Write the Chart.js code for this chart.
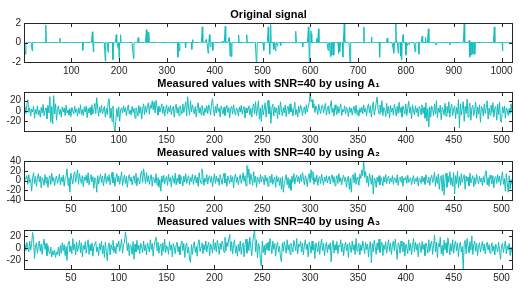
<!DOCTYPE html>
<html>
<head>
<meta charset="utf-8">
<script src="https://cdn.jsdelivr.net/npm/chart.js@4"></script>
<style>
  body { margin: 0; background: #fff; }
  #wrap { position: relative; width: 528px; height: 293px; }
  canvas { position: absolute; left: 0; }
</style>
</head>
<body>
<div id="wrap">
  <canvas id="c1" width="528" height="76" style="top:0px"></canvas>
  <canvas id="c2" width="528" height="76" style="top:69px"></canvas>
  <canvas id="c3" width="528" height="76" style="top:138px"></canvas>
  <canvas id="c4" width="528" height="76" style="top:207px"></canvas>
</div>
<script>
// ***** DATA *****

// original sparse signal: position and value of every nonzero entry (length 1024)
let sigLength = 1024;
let spikeIdx = [4, 18, 47, 76, 124, 144, 146, 171, 177, 187, 194, 198, 200, 203, 230, 240, 257, 260, 262, 305,
  323, 326, 339, 352, 354, 374, 382, 386, 389, 391, 396, 416, 422, 430, 432, 435, 450, 467, 487, 488,
  503, 512, 515, 517, 524, 527, 531, 538, 570, 584, 596, 598, 601, 602, 613, 615, 617, 637, 642, 645,
  649, 659, 662, 668, 671, 683, 712, 727, 728, 745, 761, 773, 775, 779, 781, 784, 789, 791, 794, 800,
  803, 807, 819, 827, 834, 841, 847, 863, 892, 922, 932, 934, 936, 940, 944, 985, 1002];
let spikeVal = [-1.2, -0.85, 1.8, 0.45, -0.8, 1.1, -0.95, -1.9, -1.0, -1.75, 0.8, -0.6, -1.65, 0.8, -1.65, 0.5, 1.3, 1.05, 1.05, 0.05,
  -1.5, -0.85, -0.55, -0.7, 0.3, 1.6, 0.3, -1.1, 0.8, -0.45, -0.8, 0.15, 1.65, 0.5, -1.4, -1.45, 0.8, 0.8, -2.0, -1.8,
  -0.8, 1.6, -1.2, 1.85, -0.7, -0.85, -0.35, -0.3, 1.15, -0.45, 1.6, -2.0, 1.2, 0.9, 0.4, 0.4, 1.4, -0.8, -1.45, -1.3,
  -1.3, -1.1, -0.95, -1.5, 1.9, -2.0, 1.6, 0.1, 0.55, -1.5, 0.45, -0.6, -1.1, 1.9, 0.1, -1.1, -1.4, -1.75, 0.8, -1.3,
  -0.3, -0.2, -0.95, -1.2, 0.65, 0.55, 1.4, -0.25, -0.2, 1.95, 0.2, -1.5, -1.3, -1.2, -1.2, 1.6, -0.85];

// measured values (512 each)
let measA1 = [
  0, 8, -5, 12, 22, -3, 6, -10, 4, -2, 9, -14, 3, -6, 10, -8, 2, -12, 7, -4, 13, -9, 1, 6, -15, 11, -4, 28, -22, 9, -25, 30,
  -6, 14, -18, 5, 10, -7, 3, -12, 8, -2, 6, -9, 11, -4, 2, -8, 5, -11, 7, 0, -6, 9, -3, 4, -10, 6, -5, 12, -7, 3, -9, 8,
  -2, 10, -13, 5, -4, 7, -8, 12, -6, 3, 15, -5, 26, 4, -10, 8, -3, 11, -6, 2, 9, -12, 5, -7, 18, 24, -14, 6, -20, 10, -28, -39,
  -18, 5, -12, 8, -20, 3, 6, -4, 10, -2, 7, -9, 4, 12, -6, 2, -8, 9, -3, 5, -14, 6, 1, -10, 11, -5, 8, -16, 4, 14, -7, 10,
  -3, 9, 16, -6, 12, 5, 20, 2, 18, -4, 21, 7, -8, 10, -2, 6, 14, -5, 9, -10, 3, 12, -6, 8, -2, 11, -7, 4, 9, -12, 5, 13,
  -4, 7, -9, 10, 2, -6, 14, -3, 8, 18, -10, 28, 6, -8, 20, -2, 12, 3, -6, 9, -12, 5, 16, -4, 7, -7, 11, 1, -9, 6, -3, 10,
  -5, 12, 4, -8, 15, 24, 3, -10, 9, -4, 14, -1, 6, -12, 10, 2, -6, 8, -9, 5, 11, -3, 7, -13, 4, 9, -6, 12, 0, -8, 6, 3,
  -10, 8, -2, 11, -6, 4, 9, -14, 6, -4, 2, 10, -8, 5, -12, 7, 14, -5, 18, -9, 3, 20, -16, 6, -20, 12, -8, 4, 16, -12, 8, 21,
  -6, 10, -24, 5, 13, -10, 8, -3, 6, -15, 11, -7, 18, 2, -9, 7, -4, 12, -11, 5, 9, -6, 14, -2, 6, -10, 4, 17, -8, 3, -12, 9,
  -4, 11, 6, -9, 3, 8, -6, 12, -2, 7, 16, 37, 18, 22, 6, 14, -3, 10, 4, -7, 13, 2, -5, 9, 12, -4, 6, 15, -8, 3, 10, -6,
  8, 20, -3, 6, -10, 12, 2, -7, 9, -4, 5, 14, -9, 3, -2, 10, -6, 7, 1, -11, 8, -3, 6, -8, 4, 9, -5, 11, -7, 2, -10, 6,
  -3, 8, -6, 12, -2, 5, -9, 7, 14, -4, 10, -12, 6, 18, -8, 2, 16, 27, 4, -6, 12, -3, 20, -9, 7, 3, -11, 15, -5, 9, -14, 11,
  -2, 6, -8, 13, 4, -10, 9, -5, 17, -3, 7, -12, 10, 2, -6, 14, -9, 5, 19, -4, 8, -15, 12, 0, -7, 10, -3, 6, -11, 9, 4, -8,
  12, -5, 7, -14, 16, -20, 5, -31, 8, -12, 10, 3, -9, 14, -6, 20, -13, 6, -3, 11, -17, 7, 2, -8, 15, -10, 9, -4, 18, -12, 6, 13,
  -9, 4, 10, -15, 7, -6, 22, -33, 14, -8, 5, 18, -20, 9, -5, 23, -12, 8, 15, -18, 6, 11, -9, 3, 17, -14, 8, -6, 12, -22, 9, 4,
  -10, 14, -5, 7, 20, -16, 6, -8, 11, -3, 16, -12, 5, 9, -18, 13, -7, 17, -20, -22, 8, -4, 10, -14, 6, 2, -9, 5, -6, 14, -3, -1
];
let measA2 = [
  -2, 6, 3, 10, -8, 12, -4, 2, -22, 5, 16, -6, 8, -12, 4, 14, -3, 9, -15, 6, 1, -10, 12, -5, 7, -14, 3, 10, -8, 15, -2, 6,
  -11, 4, 9, -6, 2, 13, -9, 7, -3, 11, -12, 5, 8, 24, -10, 6, -24, 15, 3, -7, 12, 18, -4, 9, 22, -8, 14, 2, -6, 10, -13, 7,
  0, 11, -5, 16, -9, 4, 12, -3, 8, -16, 6, 2, -24, 10, -7, 5, 13, -4, 9, -11, 3, 15, -6, 8, -2, 12, -9, 4, 17, -5, 7, -12,
  6, 14, -3, 9, -8, 5, 18, -10, 2, 11, -6, 8, -14, 4, 12, -2, 7, -9, 3, 10, -5, 15, -11, 6, 1, -7, 13, 20, -4, 24, 8, -6,
  16, -3, 10, -8, 5, 12, -12, 7, 3, -5, 14, -9, 6, -14, 2, -22, 9, -4, 11, -7, 4, 8, -10, 13, -2, 6, -13, 10, 3, -6, 15, -9,
  5, -4, 12, -7, 8, 2, -11, 9, -3, 14, -6, 4, 10, -9, 6, -2, 13, -8, 3, 11, -5, 7, -12, 16, 1, -6, 24, 9, -10, 5, -3, 12,
  -7, 6, 10, -4, 8, -13, 3, 14, -6, 9, -2, 5, -10, 12, 2, -8, 7, 15, -5, 4, -12, 9, 1, -6, 11, -3, 8, -15, 6, 13, -4, 7,
  -9, 4, 12, -6, 3, 16, -2, 10, -11, 31, 6, 24, -8, 14, 3, -10, 18, -4, 9, -14, 7, 2, -6, 12, -3, 8, 5, -9, 11, -2, 6, -12,
  4, 9, -5, 13, -8, 2, 7, -14, 10, -3, 6, -10, 5, -18, 8, -24, -6, 3, 12, -9, 6, -16, 2, -20, 9, -4, 14, -7, 5, 11, -3, 8,
  -6, 12, -2, 16, 5, -9, 10, 3, -12, 7, 14, -4, 22, 2, 18, -8, 6, -3, 11, -10, 4, 8, -6, 13, 1, -9, 7, -2, 10, -5, 3, 9,
  -7, 5, 12, -4, 8, -11, 2, 10, -6, 14, -3, 6, -9, 4, 11, -2, 7, -14, 3, 9, -18, 5, -24, 8, 12, -5, 16, -8, 6, 2, -10, 13,
  4, 22, 10, 40, 6, 18, -5, 9, -12, 14, 3, -8, 11, -28, 5, 2, -14, 7, -4, 10, -9, 6, 1, -11, 8, -3, 12, -6, 4, 9, -7, 5,
  -2, 10, -8, 6, 3, -5, 12, -10, 4, 7, -3, 9, -12, 5, 1, 8, -6, 11, -4, 2, 6, -9, 3, 10, -7, 4, -2, 8, -11, 5, 2, -6,
  9, -3, 6, -8, 12, 2, -5, 7, -10, 4, 11, -4, 3, 17, -12, 8, -6, 14, -18, 6, 10, -22, 12, -30, 5, 15, -14, 9, -4, 18, -9, 6,
  -12, 16, -28, 10, -6, 19, -15, 8, -10, 14, -4, 6, 12, -18, 9, -2, 7, -11, 15, -5, 3, 10, -13, 6, -8, 12, 2, -7, 9, -3, 5, -10,
  8, -4, 14, 20, -9, 6, -12, 11, 3, -7, 10, -15, 5, 8, -6, 12, -3, 9, -10, 6, 18, -8, 4, -22, 14, -6, -24, 10, -18, 2, -8, 0
];
let measA3 = [
  0, 6, -4, 10, 2, -6, 12, -3, 8, 26, 14, -17, 4, 9, -8, 3, 12, -5, 7, -10, 5, 15, -2, 8, -12, 4, -6, -9, 2, -14, -4, -11,
  -3, -15, -6, -10, 2, -13, 5, -8, 9, -4, 6, -12, 3, -20, 8, 12, -6, 4, -9, 16, -3, 7, -11, 10, -5, 2, 13, -7, 9, -14, 5, -2,
  11, -8, 4, 14, -10, 6, -4, 9, -13, 3, 7, 11, -6, 2, -12, 8, -3, 12, -9, 5, -15, 10, -5, -20, 4, 9, -11, 6, -2, 13, -7, 3,
  -9, 8, 2, 12, -5, 4, 15, -8, 6, 10, 27, 14, -4, 9, -12, 6, 3, -10, 11, -18, 7, -6, 13, -3, 5, -9, 8, 2, -7, 12, -4, 6,
  -11, 9, 3, -6, 14, -2, 8, -13, 5, 12, 18, -4, 10, -8, 3, 7, -12, 9, -5, 15, -7, 4, 1, -10, 11, -3, 6, -14, 8, 2, -9, 5,
  10, -6, 3, -11, 7, 12, -4, 8, -15, 4, 9, -8, 2, -18, -23, 6, -10, 5, 11, -7, 3, -13, 8, 14, -5, 2, 9, -9, 6, -3, 12, -6,
  4, 10, -12, 7, 2, -8, 15, -3, 9, -6, 13, 5, -10, 8, -2, 12, 6, -7, 18, -4, 10, 3, 16, 23, -5, 11, -9, 6, 14, -8, 4, -13,
  7, -5, 12, -10, 3, 9, -14, 6, 15, -8, 11, -4, 18, 2, -12, 10, 22, 30, -6, 14, -16, 8, 3, -20, -29, 12, -7, 5, -11, 8, -3, 10,
  -4, 16, 6, -9, 12, -2, 8, -13, 4, 10, -6, 3, -15, -22, 9, -5, 11, 2, -8, 14, -3, 6, -10, 8, 1, -6, 13, 5, -4, 16, -9, 7,
  3, 12, -6, 9, -11, 5, 14, -2, 7, -14, 10, 4, -8, 12, -3, 6, -17, 9, 2, -6, 11, -10, 5, 15, -4, 8, -12, 3, 10, -7, 6, -2,
  9, -22, 4, 13, -8, 6, -3, 11, -9, 5, 2, 14, -6, 8, -12, 3, 10, -4, 7, -15, 9, 2, -7, 12, -3, 6, -10, 16, -5, 4, 8, -11,
  6, -4, 12, 3, -9, 10, -2, 7, -14, 5, 11, -24, 8, -6, 13, 2, -10, 9, -3, 15, -7, 4, 10, -12, 6, -2, 11, -8, 3, 14, -5, 8,
  -10, 5, 12, -4, 15, -2, -18, 9, 6, -8, 12, 3, -6, 10, -13, 7, 2, -9, 14, -4, 8, -11, 5, 16, -6, 10, -3, 7, -14, 9, 4, -7,
  11, -2, 6, -12, 9, 3, -8, 14, -5, 7, 12, -10, 4, 22, -6, 10, -15, 8, 2, 18, -9, 5, -12, 13, -3, 9, -7, 17, 4, -11, 8, -5,
  14, -8, 6, 12, -4, 9, -14, 5, 10, -6, 3, -34, 8, 13, -9, 16, 2, -7, 11, -3, 20, -10, 6, 12, -5, 8, -12, 4, 9, -6, 3, 11,
  -4, 7, -9, 5, 10, -3, 6, -8, 2, 9, -5, 4, -11, 7, 1, -6, 10, -4, -18, 5, 8, -7, 3, 12, -9, 4, -3, 8, -12, 2, -6, -15
];

// tick labels
let xTicksSig = [100, 200, 300, 400, 500, 600, 700, 800, 900, 1000];
let xTicksMeas = [50, 100, 150, 200, 250, 300, 350, 400, 450, 500];
let yTicksSig = [-2, 0, 2];
let yTicksA1 = [-20, 0, 20];
let yTicksA2 = [-40, -20, 0, 20, 40];
let yTicksA3 = [-20, 0, 20];

// titles
let titles = [
  'Original signal',
  'Measured values with SNR=40 by using A\u2081',
  'Measured values with SNR=40 by using A\u2082',
  'Measured values with SNR=40 by using A\u2083'
];

// ***** STYLE *****
const lineColor = '#13bdbd';
const axisColor = '#262626';
const tickLen = 4;
const fontFam = "'Liberation Sans', Arial, Helvetica, sans-serif";


// ***** HELPERS *****

function toPoints(values){
  let pts = [];
  for (let i = 0; i < values.length; i++){
    pts.push({x: i + 1, y: values[i]});
  }
  return pts;
}

function buildSignal(){
  let sig = [];
  for (let i = 0; i < sigLength; i++){
    sig.push(0);
  }
  for (let i = 0; i < spikeIdx.length; i++){
    sig[spikeIdx[i] - 1] = spikeVal[i];
  }
  return sig;
}

// plain numbers, no thousands separator
function plainLabel(value){
  return String(value);
}

// box round the plot area plus inward ticks on all four sides (matlab look)
const boxTicks = {
  id: 'boxTicks',
  afterDatasetsDraw(chart){
    const ctx = chart.ctx;
    const a = chart.chartArea;
    const xs = chart.scales.x;
    const ys = chart.scales.y;
    ctx.save();
    ctx.strokeStyle = axisColor;
    ctx.lineWidth = 1;
    ctx.beginPath();
    xs.ticks.forEach(function(t){
      let px = Math.round(xs.getPixelForValue(t.value)) + 0.5;
      ctx.moveTo(px, a.bottom);
      ctx.lineTo(px, a.bottom - tickLen);
      ctx.moveTo(px, a.top);
      ctx.lineTo(px, a.top + tickLen);
    });
    ys.ticks.forEach(function(t){
      let py = Math.round(ys.getPixelForValue(t.value)) + 0.5;
      ctx.moveTo(a.left, py);
      ctx.lineTo(a.left + tickLen, py);
      ctx.moveTo(a.right, py);
      ctx.lineTo(a.right - tickLen, py);
    });
    ctx.stroke();
    ctx.strokeRect(Math.round(a.left) + 0.5, Math.round(a.top) + 0.5,
      Math.round(a.right - a.left) - 1, Math.round(a.bottom - a.top));
    ctx.restore();
  }
};

function makeChart(id, title, values, xMax, yMin, yMax, xTicks, yTicks){
  const ctx = document.getElementById(id).getContext('2d');
  return new Chart(ctx, {
    type: 'line',
    data: {
      datasets: [{
        data: toPoints(values),
        borderColor: lineColor,
        borderWidth: 1,
        pointRadius: 0,
        tension: 0
      }]
    },
    options: {
      responsive: false,
      animation: false,
      events: [],
      layout: { padding: { left: 0, right: 15, top: 0, bottom: 0 } },
      plugins: {
        legend: { display: false },
        tooltip: { enabled: false },
        title: {
          display: true,
          text: title,
          fullSize: false,
          color: '#000',
          font: { family: fontFam, size: 11, weight: 'bold' },
          padding: { top: 8, bottom: 1.8 }
        }
      },
      scales: {
        x: {
          type: 'linear',
          min: 1,
          max: xMax,
          grid: { display: false, drawTicks: false },
          border: { display: false },
          ticks: { color: axisColor, padding: 3, autoSkip: false, maxRotation: 0,
            font: { family: fontFam, size: 10 }, callback: plainLabel },
          afterBuildTicks: function(scale){
            scale.ticks = xTicks.map(function(v){ return {value: v}; });
          },
          afterFit: function(scale){ scale.height = 14; }
        },
        y: {
          type: 'linear',
          min: yMin,
          max: yMax,
          grid: { display: false, drawTicks: false },
          border: { display: false },
          ticks: { color: axisColor, padding: 3, autoSkip: false,
            font: { family: fontFam, size: 10 }, callback: plainLabel },
          afterBuildTicks: function(scale){
            scale.ticks = yTicks.map(function(v){ return {value: v}; });
          },
          afterFit: function(scale){ scale.width = 24; }
        }
      }
    },
    plugins: [boxTicks]
  });
}


// ***** RENDER *****
makeChart('c1', titles[0], buildSignal(), 1024, -2, 2, xTicksSig, yTicksSig);
makeChart('c2', titles[1], measA1, 512, -39, 37, xTicksMeas, yTicksA1);
makeChart('c3', titles[2], measA2, 512, -40, 40, xTicksMeas, yTicksA2);
makeChart('c4', titles[3], measA3, 512, -34, 30, xTicksMeas, yTicksA3);
</script>
</body>
</html>
